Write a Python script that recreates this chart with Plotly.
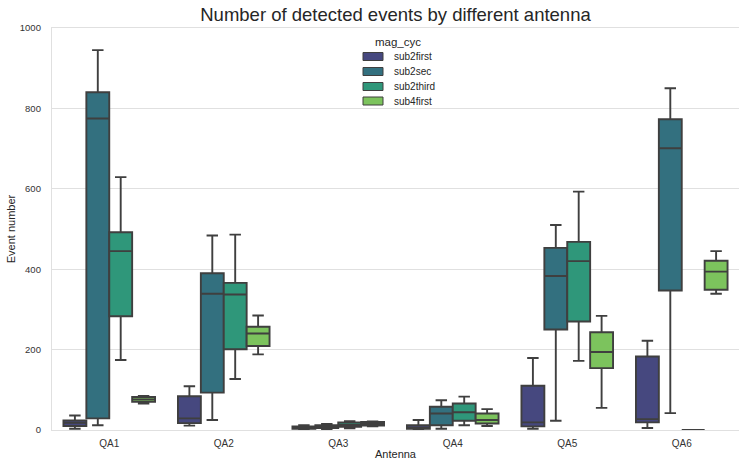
import plotly.graph_objects as go

# Antennas on the x axis and the magnetometer cycles compared at each one
antennas = ["QA1", "QA2", "QA3", "QA4", "QA5", "QA6"]
cycles = ["sub2first", "sub2sec", "sub2third", "sub4first"]
palette = ["#46487f", "#33707f", "#2f977a", "#7cc35d"]

# Box statistics of the event counts, one list per cycle, ordered like `antennas`
lower_whisker = {
    "sub2first": [3, 11, 1, 0, 3, 5],
    "sub2sec":   [12, 25, 2, 3, 23, 42],
    "sub2third": [174, 127, 4, 12, 172, 0],
    "sub4first": [66, 188, 9, 10, 55, 339],
}
quartile_1 = {
    "sub2first": [10, 17, 3, 3, 9, 19],
    "sub2sec":   [29, 93, 5, 12, 250, 347],
    "sub2third": [283, 201, 8, 23, 270, 0],
    "sub4first": [70, 209, 11, 16, 154, 349],
}
medians = {
    "sub2first": [18, 29, 6, 6, 19, 27],
    "sub2sec":   [775, 339, 8, 41, 383, 701],
    "sub2third": [445, 337, 13, 44, 420, 0],
    "sub4first": [76, 240, 15, 25, 194, 394],
}
quartile_3 = {
    "sub2first": [24, 84, 9, 12, 110, 183],
    "sub2sec":   [840, 390, 12, 58, 453, 773],
    "sub2third": [492, 366, 19, 66, 468, 0],
    "sub4first": [82, 257, 20, 41, 243, 421],
}
upper_whisker = {
    "sub2first": [36, 109, 12, 25, 179, 222],
    "sub2sec":   [945, 484, 15, 74, 510, 850],
    "sub2third": [629, 486, 22, 83, 593, 0],
    "sub4first": [85, 285, 21, 52, 284, 445],
}

FONT = "Liberation Sans, Arial, sans-serif"
EDGE = "#3f3f3f"
GRID = "#e0e0e0"

W, H = 739, 460
ML, MR, MT, MB = 52, 0, 28, 30
PW, PH = W - ML - MR, H - MT - MB


def px_to_paper(xp, yp):
    """Pixel position on the page -> paper coordinates of the plot area."""
    return (xp - ML) / PW, (H - MB - yp) / PH


fig = go.Figure()
for cyc, col in zip(cycles, palette):
    fig.add_trace(go.Box(
        name=cyc,
        x=antennas,
        lowerfence=lower_whisker[cyc],
        q1=quartile_1[cyc],
        median=medians[cyc],
        q3=quartile_3[cyc],
        upperfence=upper_whisker[cyc],
        fillcolor=col,
        line=dict(color=EDGE, width=1.9),
        whiskerwidth=0.5,
        boxpoints=False,
        offsetgroup=cyc,
        showlegend=False,
    ))

# Compact key in the upper middle of the axes: title, swatches and labels
shapes, annotations = [], []
tx, ty = px_to_paper(398, 42.5)
annotations.append(dict(
    text="mag_cyc", x=tx, y=ty, xref="paper", yref="paper",
    xanchor="center", yanchor="middle", showarrow=False,
    font=dict(family=FONT, size=11.5, color="#262626"),
))
row_y = [56.5, 71.5, 86.5, 101.0]
for cyc, col, ry in zip(cycles, palette, row_y):
    x0, y0 = px_to_paper(363, ry + 4)
    x1, y1 = px_to_paper(383, ry - 4)
    shapes.append(dict(
        type="rect", xref="paper", yref="paper",
        x0=x0, x1=x1, y0=y0, y1=y1,
        fillcolor=col, line=dict(color=EDGE, width=1),
    ))
    lx, ly = px_to_paper(392, ry)
    annotations.append(dict(
        text=cyc, x=lx, y=ly, xref="paper", yref="paper",
        xanchor="left", yanchor="middle", showarrow=False,
        font=dict(family=FONT, size=10, color="#262626"),
    ))

fig.update_layout(
    width=W, height=H,
    margin=dict(l=ML, r=MR, t=MT, b=MB, autoexpand=False),
    paper_bgcolor="white",
    plot_bgcolor="white",
    boxmode="group",
    boxgap=0.2,
    boxgroupgap=0.0,
    showlegend=False,
    font=dict(family=FONT, size=10, color="#333333"),
    title=dict(
        text="Number of detected events by different antenna",
        font=dict(family=FONT, size=18.5, color="#262626"),
        x=0.5, xref="paper", xanchor="center",
        y=1 - 15 / H, yref="container", yanchor="middle",
    ),
    shapes=shapes,
    annotations=annotations,
    xaxis=dict(
        type="category",
        categoryorder="array", categoryarray=antennas,
        range=[-0.5, 5.5],
        showgrid=False,
        showline=True, linecolor=GRID, linewidth=1.3, mirror=True,
        ticks="", ticklabelstandoff=4,
        tickfont=dict(family=FONT, size=10, color="#333333"),
        title=dict(text="Antenna", standoff=4,
                   font=dict(family=FONT, size=11, color="#262626")),
        zeroline=False,
    ),
    yaxis=dict(
        range=[0, 1000],
        tickvals=[0, 200, 400, 600, 800, 1000],
        showgrid=True, gridcolor=GRID, gridwidth=1.3,
        showline=True, linecolor=GRID, linewidth=1.3, mirror=True,
        ticks="", ticklabelstandoff=8,
        tickfont=dict(family=FONT, size=9.5, color="#333333"),
        title=dict(text="Event number", standoff=1,
                   font=dict(family=FONT, size=11, color="#262626")),
        zeroline=False,
    ),
)

fig.write_html("out.html")
